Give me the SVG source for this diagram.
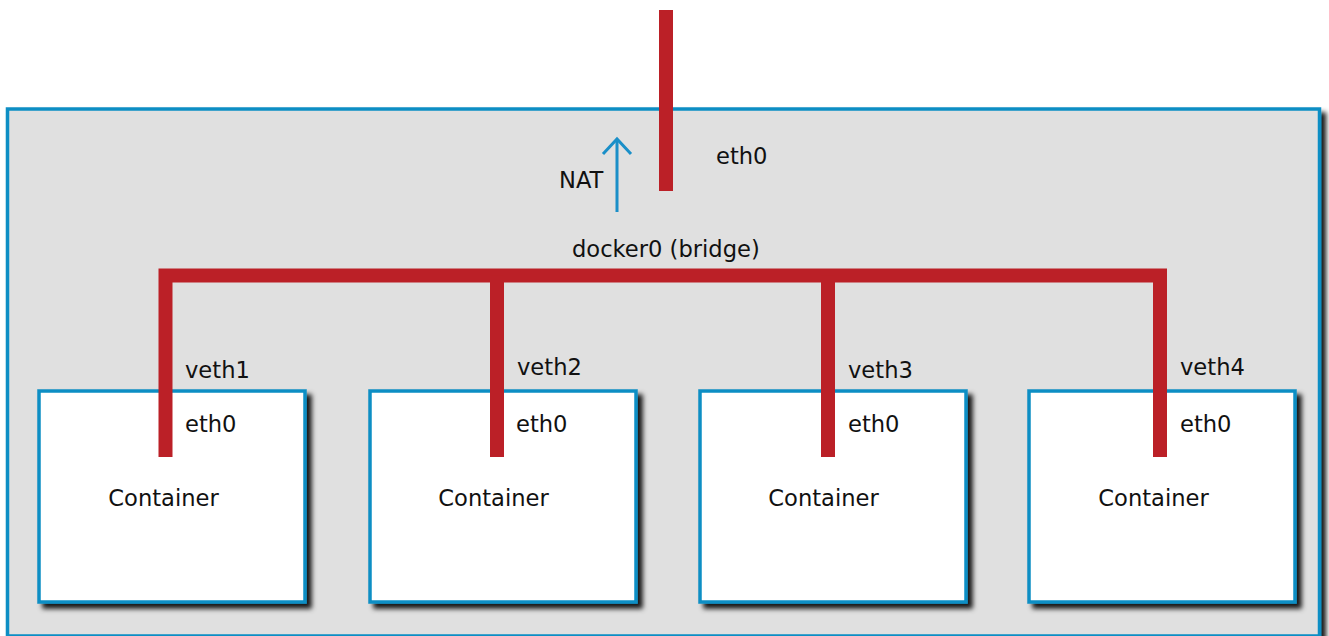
<svg xmlns="http://www.w3.org/2000/svg" width="1329" height="636" viewBox="0 0 1329 636">
<defs>
<filter id="sh" x="-5%" y="-5%" width="115%" height="115%">
<feGaussianBlur in="SourceAlpha" stdDeviation="2.5"/>
<feOffset dx="5" dy="5" result="b"/>
<feFlood flood-color="#000" flood-opacity="0.9"/>
<feComposite in2="b" operator="in"/>
<feMerge><feMergeNode/><feMergeNode in="SourceGraphic"/></feMerge>
</filter>
</defs>
<style>
.host{fill:#e0e0e0;stroke:#0a8ec4;stroke-width:3.5}
.box{fill:#fff;stroke:#0a8ec4;stroke-width:3.5}
.wire{fill:none;stroke:#bb2027;stroke-width:14}
.nat{fill:none;stroke:#1a8fc8;stroke-width:3}
text{font-family:"DejaVu Sans",Verdana,sans-serif;font-size:22.6px;fill:#111}
</style>
<rect width="1329" height="636" fill="#fff"/>
<g id="host">
<rect class="host" x="7.5" y="109" width="1312" height="527" filter="url(#sh)"/>
</g>
<g id="container1">
<rect class="box" x="39" y="391" width="266" height="211" filter="url(#sh)"/>
<text x="163.5" y="506" text-anchor="middle">Container</text>
</g>
<g id="container2">
<rect class="box" x="370" y="391" width="266" height="211" filter="url(#sh)"/>
<text x="493.5" y="506" text-anchor="middle">Container</text>
</g>
<g id="container3">
<rect class="box" x="700" y="391" width="266" height="211" filter="url(#sh)"/>
<text x="823.5" y="506" text-anchor="middle">Container</text>
</g>
<g id="container4">
<rect class="box" x="1029" y="391" width="266" height="211" filter="url(#sh)"/>
<text x="1153.5" y="506" text-anchor="middle">Container</text>
</g>
<g id="connectors">
<line class="wire" x1="666" y1="10" x2="666" y2="191"/>
<polyline class="wire" points="165.5,457 165.5,275.5 1160,275.5 1160,457"/>
<line class="wire" x1="497" y1="275.5" x2="497" y2="457"/>
<line class="wire" x1="828" y1="275.5" x2="828" y2="457"/>
<line class="nat" x1="617" y1="212" x2="617" y2="139"/>
<polyline class="nat" points="603,154 617,139 631,154"/>
</g>
<g id="labels">
<text x="559" y="188">NAT</text>
<text x="716" y="164">eth0</text>
<text x="572" y="257">docker0 (bridge)</text>
<text x="185" y="378">veth1</text>
<text x="517" y="375">veth2</text>
<text x="848" y="378">veth3</text>
<text x="1180" y="375">veth4</text>
<text x="185" y="432">eth0</text>
<text x="516" y="432">eth0</text>
<text x="848" y="432">eth0</text>
<text x="1180" y="432">eth0</text>
</g>
</svg>
